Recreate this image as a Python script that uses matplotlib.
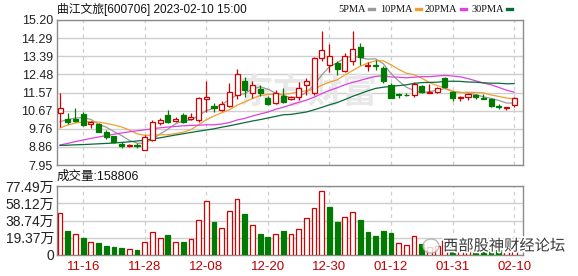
import numpy as np
import matplotlib.pyplot as plt
import matplotlib.patheffects as pe
from matplotlib.lines import Line2D
from matplotlib.patches import Ellipse

plt.rcParams['font.family'] = ['Liberation Sans', 'Noto Sans CJK SC']

# trading days 2022-11-11 .. 2023-02-10
dates = ['11-11', '11-14', '11-15', '11-16', '11-17', '11-18', '11-21', '11-22', '11-23', '11-24',
         '11-25', '11-28', '11-29', '11-30', '12-01', '12-02', '12-05', '12-06', '12-07', '12-08',
         '12-09', '12-12', '12-13', '12-14', '12-15', '12-16', '12-19', '12-20', '12-21', '12-22',
         '12-23', '12-26', '12-27', '12-28', '12-29', '12-30', '01-03', '01-04', '01-05', '01-06',
         '01-09', '01-10', '01-11', '01-12', '01-13', '01-16', '01-17', '01-18', '01-19', '01-20',
         '01-30', '01-31', '02-01', '02-02', '02-03', '02-06', '02-07', '02-08', '02-09', '02-10']

opens = [10.57, 10.25, 10.25, 10.48, 10.02, 9.98, 9.58, 9.38, 8.98, 8.91,
         8.93, 8.72, 9.19, 10.03, 10.45, 10.17, 10.45, 10.25, 10.20, 11.25,
         10.92, 10.70, 10.92, 11.45, 12.13, 11.57, 11.74, 11.32, 11.04, 11.40,
         11.24, 11.37, 11.93, 11.54, 13.30, 12.96, 13.05, 12.63, 13.13, 13.83,
         12.88, 12.96, 12.79, 11.96, 11.50, 11.47, 11.45, 11.88, 11.57, 11.60,
         12.28, 11.59, 11.30, 11.37, 11.45, 11.30, 11.25, 10.89, 10.79, 10.95]
highs = [11.54, 10.53, 10.79, 10.62, 10.15, 10.03, 9.69, 9.41, 9.08, 9.00,
         9.03, 9.44, 10.20, 10.28, 10.70, 10.37, 10.53, 10.53, 11.37, 12.13,
         11.04, 11.15, 12.04, 12.76, 12.33, 12.13, 11.93, 11.40, 11.70, 11.79,
         11.39, 12.09, 12.29, 13.33, 14.64, 14.00, 13.13, 13.55, 14.67, 14.05,
         13.10, 13.21, 12.88, 12.04, 11.57, 11.54, 12.08, 11.93, 11.99, 11.84,
         12.33, 11.65, 11.39, 11.54, 11.49, 11.49, 11.29, 11.00, 10.86, 11.37]
lows = [9.87, 9.98, 10.08, 9.92, 9.82, 9.58, 9.24, 9.03, 8.78, 8.86,
        8.78, 8.69, 9.14, 9.95, 10.03, 10.12, 10.03, 10.20, 10.08, 10.62,
        10.62, 10.65, 10.87, 11.25, 11.37, 11.32, 11.42, 10.95, 10.99, 11.04,
        11.19, 11.20, 11.45, 11.45, 13.13, 12.59, 12.43, 12.59, 12.96, 12.93,
        12.66, 12.71, 12.04, 11.29, 11.29, 11.40, 11.37, 11.54, 11.57, 11.54,
        11.79, 11.17, 11.15, 11.20, 11.24, 11.27, 10.84, 10.77, 10.70, 10.87]
closes = [10.79, 10.12, 10.15, 9.95, 10.12, 9.61, 9.36, 9.08, 8.91, 8.94,
          8.90, 9.36, 10.12, 10.20, 10.12, 10.23, 10.08, 10.37, 11.32, 11.37,
          10.82, 10.99, 11.59, 12.49, 11.70, 11.96, 11.54, 11.00, 11.54, 11.12,
          11.34, 11.79, 12.13, 13.30, 13.71, 13.38, 12.76, 13.38, 13.75, 13.33,
          12.96, 12.88, 12.13, 11.32, 11.44, 11.44, 12.01, 11.59, 11.62, 11.78,
          11.84, 11.29, 11.37, 11.50, 11.37, 11.27, 10.90, 10.85, 10.85, 11.32]
# volume in 万手
volumes = [46.8, 27.0, 23.6, 19.1, 14.6, 13.5, 10.1, 9.0, 7.9, 6.4,
           5.6, 14.6, 25.5, 18.7, 22.5, 14.6, 14.6, 17.6, 38.9, 60.3,
           37.1, 29.9, 49.0, 62.5, 46.0, 33.3, 23.6, 20.2, 23.6, 27.0,
           23.6, 29.2, 41.2, 52.4, 71.9, 53.9, 37.1, 42.7, 48.3, 39.3,
           25.8, 21.3, 27.0, 24.7, 13.5, 11.2, 21.3, 12.0, 9.0, 10.0,
           17.0, 18.0, 9.0, 8.0, 7.0, 7.0, 12.0, 7.0, 10.0, 15.88]

ma5 = [10.12, 10.22, 10.30, 10.32, 10.23, 9.99, 9.84, 9.62, 9.42, 9.18,
       9.04, 9.04, 9.25, 9.50, 9.74, 10.01, 10.15, 10.20, 10.42, 10.67,
       10.79, 10.97, 11.22, 11.45, 11.52, 11.75, 11.86, 11.74, 11.55, 11.43,
       11.31, 11.36, 11.58, 11.94, 12.45, 12.86, 13.06, 13.31, 13.40, 13.32,
       13.24, 13.26, 13.01, 12.52, 12.15, 11.84, 11.67, 11.56, 11.62, 11.69,
       11.77, 11.62, 11.58, 11.56, 11.47, 11.36, 11.28, 11.18, 11.05, 11.04]
ma10 = [9.80, 9.95, 10.05, 10.10, 10.12, 10.10, 10.03, 9.95, 9.85, 9.70,
        9.51, 9.44, 9.44, 9.46, 9.46, 9.52, 9.59, 9.72, 9.96, 10.21,
        10.40, 10.56, 10.71, 10.94, 11.10, 11.27, 11.42, 11.48, 11.50, 11.48,
        11.53, 11.61, 11.66, 11.74, 11.94, 12.09, 12.21, 12.45, 12.67, 12.89,
        13.05, 13.16, 13.16, 12.96, 12.73, 12.54, 12.46, 12.29, 12.07, 11.92,
        11.81, 11.65, 11.57, 11.59, 11.58, 11.56, 11.45, 11.38, 11.30, 11.26]
ma20 = [8.95, 9.03, 9.12, 9.20, 9.28, 9.35, 9.42, 9.49, 9.55, 9.61,
        9.66, 9.71, 9.76, 9.81, 9.85, 9.88, 9.91, 9.93, 9.94, 9.96,
        9.96, 10.00, 10.07, 10.20, 10.28, 10.40, 10.50, 10.60, 10.73, 10.84,
        10.96, 11.08, 11.19, 11.34, 11.52, 11.68, 11.81, 11.96, 12.08, 12.18,
        12.29, 12.38, 12.41, 12.35, 12.34, 12.31, 12.34, 12.37, 12.37, 12.40,
        12.43, 12.40, 12.36, 12.27, 12.16, 12.05, 11.96, 11.83, 11.69, 11.59]
ma30 = [8.93, 8.94, 8.96, 8.97, 8.99, 9.01, 9.03, 9.05, 9.08, 9.11,
        9.15, 9.19, 9.25, 9.31, 9.38, 9.45, 9.51, 9.58, 9.64, 9.70,
        9.76, 9.84, 9.91, 9.99, 10.07, 10.15, 10.22, 10.30, 10.38, 10.46,
        10.48, 10.54, 10.60, 10.71, 10.83, 10.96, 11.07, 11.22, 11.38, 11.52,
        11.66, 11.78, 11.84, 11.88, 11.92, 11.96, 12.03, 12.07, 12.08, 12.09,
        12.13, 12.14, 12.13, 12.10, 12.09, 12.06, 12.04, 12.04, 12.01, 12.02]

price_ticks = [7.95, 8.86, 9.76, 10.67, 11.57, 12.48, 13.39, 14.29, 15.20]
vol_ticks = [0, 19.37, 38.74, 58.12, 77.49]
vol_labels = ['0', '19.37万', '38.74万', '58.12万', '77.49万']
ma_labels = ['5PMA', '10PMA', '20PMA', '30PMA']
title = '曲江文旅[600706] 2023-02-10 15:00'
last_volume = '成交量:158806'

RED = '#D40000'
GREEN = '#007A00'
ma_colors = ['#9A9A9A', '#F0A030', '#E040E0', '#0A6A3A']
GRID = '#CFCFCF'
FRAME = '#8C8C8C'

W, H = 578, 276
fig = plt.figure(figsize=(W / 100, H / 100), dpi=100)
ax = fig.add_axes([57 / W, (H - 165) / H, 466 / W, 145 / H])
axv = fig.add_axes([57 / W, (H - 255) / H, 466 / W, 69 / H])

x = np.arange(len(closes))
o = np.array(opens)
c = np.array(closes)
up = c >= o
tick_idx = list(range(3, len(dates), 8))

# faint site watermark behind the candles
ax.text(0.54, 0.50, '东方财富', transform=ax.transAxes, fontsize=25, fontweight='bold',
        color='#E8E8E8', ha='center', va='center', zorder=0.6,
        family=['Noto Sans CJK SC'])

# wicks
for i in x:
    col = RED if up[i] else GREEN
    ax.vlines(i, lows[i], highs[i], color=col, lw=0.9, zorder=3)
# bodies
body_h = np.maximum(np.abs(c - o), 0.025)
body_b = np.minimum(c, o)
ax.bar(x[up], body_h[up], bottom=body_b[up], width=0.66, facecolor='white',
       edgecolor=RED, lw=0.9, zorder=4)
ax.bar(x[~up], body_h[~up], bottom=body_b[~up], width=0.66, facecolor=GREEN,
       edgecolor=GREEN, lw=0.9, zorder=4)

for ma, col in zip([ma5, ma10, ma20, ma30], ma_colors):
    ax.plot(x, ma, color=col, lw=0.9, zorder=2.5)

ax.set_xlim(-0.4, 60.15)
ax.set_ylim(price_ticks[0], price_ticks[-1])
ax.set_yticks(price_ticks)
ax.set_yticklabels(['%.2f' % t for t in price_ticks])
ax.set_xticks(tick_idx)
ax.set_xticklabels([])

# volume: colour follows close vs previous close
prev = np.concatenate([[c[0]], c[:-1]])
vup = c >= prev
vol = np.array(volumes)
axv.bar(x[vup], vol[vup], width=0.62, facecolor='white', edgecolor=RED, lw=0.9, zorder=3)
axv.bar(x[~vup], vol[~vup], width=0.62, facecolor=GREEN, edgecolor=GREEN, lw=0.9, zorder=3)
axv.set_xlim(-0.4, 60.15)
axv.set_ylim(0, vol_ticks[-1])
axv.set_yticks(vol_ticks)
axv.set_yticklabels(vol_labels)
axv.set_xticks(tick_idx)
axv.set_xticklabels([dates[i] for i in tick_idx])

for a in (ax, axv):
    a.set_axisbelow(True)
    a.grid(axis='y', color=GRID, lw=1, ls='-')
    a.grid(axis='x', color=GRID, lw=0.9, ls=(0, (3, 3)))
    a.tick_params(length=0, labelsize=9, labelcolor='#222222', pad=3)
    for s in a.spines.values():
        s.set_color(FRAME)
        s.set_linewidth(1)
axv.tick_params(axis='y', labelsize=10, pad=2)
axv.tick_params(axis='x', labelsize=9.5, pad=4, labelcolor='#C00000')

# header
fig.text(57 / W, 1 - 9 / H, title, fontsize=8.5, va='center', ha='left', color='#111111')
renderer = fig.canvas.get_renderer()
lx = [338, 380, 425, 471]
for lab, col, px in zip(ma_labels, ma_colors, lx):
    t = fig.text(px / W, 1 - 9 / H, lab, fontsize=7.5, va='center', ha='left',
                 family=['Liberation Serif'], color='#111111')
    bb = t.get_window_extent(renderer)
    dx = bb.x1 + 3
    fig.add_artist(Line2D([dx / W, (dx + 5) / W], [1 - 9 / H, 1 - 9 / H],
                          color=col, lw=2.4, transform=fig.transFigure))

fig.text(57 / W, 1 - 177 / H, last_volume, fontsize=9, va='center', ha='left', color='#111111')

# wechat forward mark at the bottom right
fig.add_artist(Ellipse((431 / W, 1 - 246 / H), 16 / W, 14 / H, transform=fig.transFigure,
                       facecolor='white', edgecolor='#AAAAAA', lw=1, alpha=0.8))
fig.text(443 / W, 1 - 246 / H, '西部股神财经论坛', fontsize=11, va='center', ha='left',
         color='#3A3A3A', family=['Noto Sans CJK SC'],
         path_effects=[pe.withStroke(linewidth=2.5, foreground='white')])

fig.savefig('out.png', dpi=100)
